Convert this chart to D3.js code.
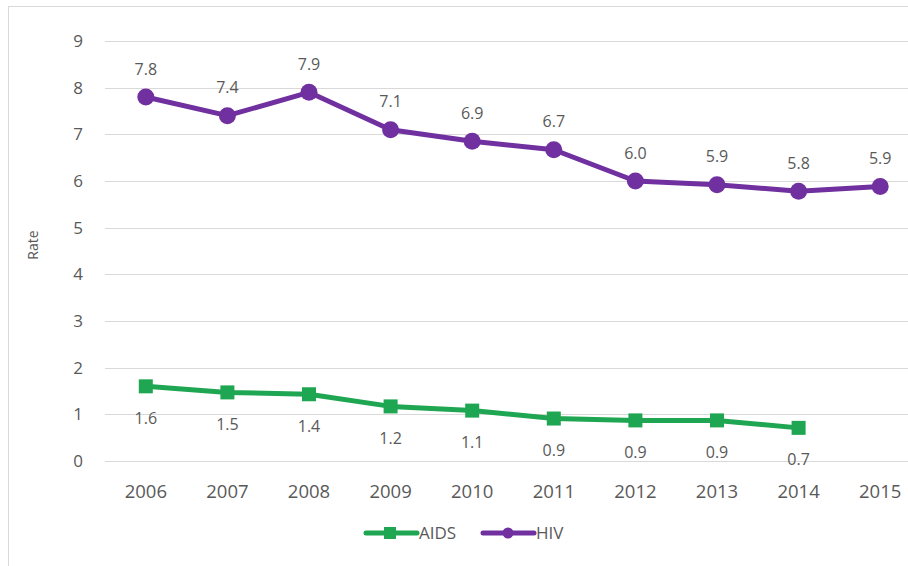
<!DOCTYPE html>
<html>
<head>
<meta charset="utf-8">
<script src="https://cdn.jsdelivr.net/npm/d3@7"></script>
<style>
  body { margin: 0; background: #fff; }
  text { font-family: "Open Sans", "Noto Sans", sans-serif; fill: #595959; }
</style>
</head>
<body>
<script>
// chart data
var years = ["2006", "2007", "2008", "2009", "2010", "2011", "2012", "2013", "2014", "2015"];
var hivRates = [7.8, 7.4, 7.9, 7.1, 6.85, 6.67, 6.0, 5.92, 5.78, 5.88];
var hivLabels = ["7.8", "7.4", "7.9", "7.1", "6.9", "6.7", "6.0", "5.9", "5.8", "5.9"];
var aidsRates = [1.6, 1.47, 1.43, 1.17, 1.08, 0.91, 0.87, 0.87, 0.71];
var aidsLabels = ["1.6", "1.5", "1.4", "1.2", "1.1", "0.9", "0.9", "0.9", "0.7"];
var yTicks = [0, 1, 2, 3, 4, 5, 6, 7, 8, 9];

var W = 908, H = 566;
var margin = {top: 41, left: 105, bottom: 105, right: -13};
var width = W - margin.left - margin.right;
var height = H - margin.top - margin.bottom;

var svg = d3.select("body").append("svg")
  .attr("width", W).attr("height", H);

// outer chart border (right and bottom edges fall outside the picture)
svg.append("rect")
  .attr("x", 8.5).attr("y", 6.5)
  .attr("width", W + 20).attr("height", H + 20)
  .attr("fill", "none").attr("stroke", "#d9d9d9");

var g = svg.append("g")
  .attr("transform", "translate(" + margin.left + "," + margin.top + ")");

var x = d3.scaleBand().domain(years).range([0, width]);
var y = d3.scaleLinear().domain([0, 9]).range([height, 0]);
function cx(d, i) { return x(years[i]) + x.bandwidth() / 2; }

// gridlines
g.selectAll("line.grid").data(yTicks).enter().append("line")
  .attr("class", "grid")
  .attr("x1", 0).attr("x2", width)
  .attr("y1", function (d) { return Math.round(y(d)) + 0.5; })
  .attr("y2", function (d) { return Math.round(y(d)) + 0.5; })
  .attr("stroke", "#d9d9d9").attr("stroke-width", 1);

// y axis labels
var yAxis = g.append("g")
  .call(d3.axisLeft(y).tickValues(yTicks).tickSize(0).tickPadding(22));
yAxis.select(".domain").remove();
yAxis.selectAll("text").style("font-size", "17px").attr("fill", "#595959");

// x axis labels
var xAxis = g.append("g")
  .attr("transform", "translate(0," + height + ")")
  .call(d3.axisBottom(x).tickSize(0).tickPadding(24));
xAxis.select(".domain").remove();
xAxis.selectAll("text").style("font-size", "18.5px").attr("fill", "#595959");

// y axis title
svg.append("text")
  .attr("transform", "translate(38,245) rotate(-90)")
  .attr("text-anchor", "middle")
  .style("font-size", "14px")
  .text("Rate");

var hivColor = "#7030a0", aidsColor = "#1fa652";

var line = d3.line()
  .x(cx)
  .y(function (d) { return y(d); });

// AIDS series
g.append("path").datum(aidsRates)
  .attr("d", line)
  .attr("fill", "none").attr("stroke", aidsColor)
  .attr("stroke-width", 5).attr("stroke-linejoin", "round");
g.selectAll("rect.aids").data(aidsRates).enter().append("rect")
  .attr("class", "aids")
  .attr("x", function (d, i) { return cx(d, i) - 7; })
  .attr("y", function (d) { return y(d) - 7; })
  .attr("width", 14).attr("height", 14)
  .attr("fill", aidsColor);
g.selectAll("text.aidsLbl").data(aidsRates).enter().append("text")
  .attr("class", "aidsLbl")
  .attr("x", cx)
  .attr("y", function (d) { return y(d) + 32; })
  .attr("dy", "0.35em")
  .attr("text-anchor", "middle")
  .style("font-size", "16px")
  .text(function (d, i) { return aidsLabels[i]; });

// HIV series
g.append("path").datum(hivRates)
  .attr("d", line)
  .attr("fill", "none").attr("stroke", hivColor)
  .attr("stroke-width", 5).attr("stroke-linejoin", "round");
g.selectAll("circle.hiv").data(hivRates).enter().append("circle")
  .attr("class", "hiv")
  .attr("cx", cx)
  .attr("cy", function (d) { return y(d); })
  .attr("r", 8.5)
  .attr("fill", hivColor);
g.selectAll("text.hivLbl").data(hivRates).enter().append("text")
  .attr("class", "hivLbl")
  .attr("x", cx)
  .attr("y", function (d) { return y(d) - 28; })
  .attr("dy", "0.35em")
  .attr("text-anchor", "middle")
  .style("font-size", "16px")
  .text(function (d, i) { return hivLabels[i]; });

// legend
var legend = svg.append("g").attr("transform", "translate(0,533)");
var items = [
  {name: "AIDS", color: aidsColor, x: 366, shape: "square"},
  {name: "HIV", color: hivColor, x: 483, shape: "circle"}
];
items.forEach(function (it) {
  legend.append("line")
    .attr("x1", it.x).attr("x2", it.x + 51)
    .attr("y1", 0).attr("y2", 0)
    .attr("stroke", it.color).attr("stroke-width", 5)
    .attr("stroke-linecap", "round");
  if (it.shape === "square") {
    legend.append("rect")
      .attr("x", it.x + 24 - 6).attr("y", -6)
      .attr("width", 12).attr("height", 12)
      .attr("fill", it.color);
  } else {
    legend.append("circle")
      .attr("cx", it.x + 25).attr("cy", 0).attr("r", 5.5)
      .attr("fill", it.color);
  }
  legend.append("text")
    .attr("x", it.x + 53).attr("y", 0)
    .attr("dy", "0.35em")
    .style("font-size", "17px")
    .text(it.name);
});
</script>
</body>
</html>
